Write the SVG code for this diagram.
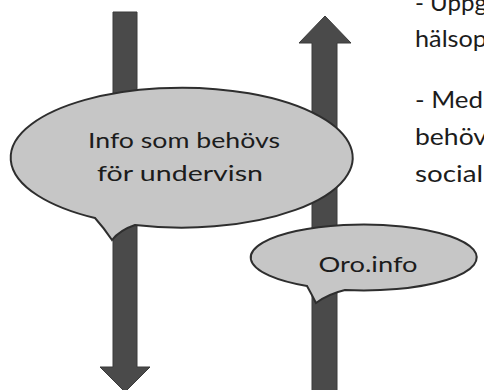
<svg xmlns="http://www.w3.org/2000/svg" width="484" height="390" viewBox="0 0 484 390">
<style>
.arrow{fill:#4a4a4a;stroke:#3a3a3a;stroke-width:1}
.bubble{fill:#c6c6c6;stroke:#2e2e2e;stroke-width:2}
.t{font-family:Lato,"Open Sans","Liberation Sans",sans-serif;font-size:22px;fill:#1c1c1c}
.s{font-size:24px}
.c{text-anchor:middle}
</style>
<rect width="484" height="390" fill="#fff"/>
<g id="connectors">
<path class="arrow" d="M312 43 L299 43 L325 16 L351 43 L337 43 L337 392 L312 392 Z"/>
<path class="arrow" d="M113 12 L137 12 L137 367 L150 367 L125 392 L100 367 L113 367 Z"/>
</g>
<g id="node-undervisning">
<path class="bubble" d="M95 218 Q104 228 112 240 Q120 230 135 225 A171 70 0 1 0 95 218 Z"/>
<text class="t c" x="184" y="148" textLength="192" lengthAdjust="spacingAndGlyphs">Info som behövs</text>
<text class="t c" x="180" y="181" textLength="166" lengthAdjust="spacingAndGlyphs">för undervisn</text>
</g>
<g id="node-oro">
<path class="bubble" d="M307 286 Q312 295 316 303 Q328 294 345 290 A113 33 0 1 0 307 286 Z"/>
<text class="t c" x="368" y="272" textLength="99" lengthAdjust="spacingAndGlyphs">Oro.info</text>
</g>
<g id="side-text" class="t s">
<text x="415" y="11" textLength="72" lengthAdjust="spacingAndGlyphs">- Uppg</text>
<text x="415" y="47" textLength="72" lengthAdjust="spacingAndGlyphs">hälsop</text>
<text x="415" y="108" textLength="68" lengthAdjust="spacingAndGlyphs">- Med</text>
<text x="415" y="145" textLength="72" lengthAdjust="spacingAndGlyphs">behöv</text>
<text x="415" y="182" textLength="68" lengthAdjust="spacingAndGlyphs">social</text>
</g>
</svg>
